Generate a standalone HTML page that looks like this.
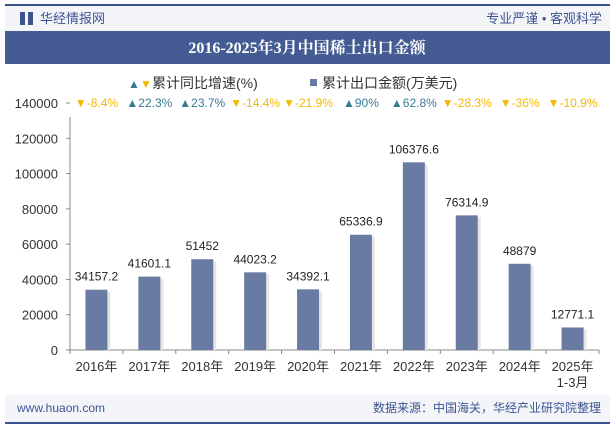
<!DOCTYPE html>
<html><head><meta charset="utf-8"><style>
body{margin:0;width:615px;height:427px;overflow:hidden;background:#fff;font-family:"Liberation Sans","Noto Sans CJK SC",sans-serif}
</style></head><body>
<svg width="615" height="427" xmlns="http://www.w3.org/2000/svg">
<rect x="0" y="0" width="615" height="427" fill="#fff"/>
<rect x="5" y="5" width="605" height="26" fill="#f4f5f9"/>
<rect x="5" y="4" width="605" height="2" fill="#3d5391"/>
<rect x="20" y="12" width="5" height="13" fill="#3d5391"/>
<rect x="28" y="12" width="5" height="13" fill="#3d5391"/>
<text x="40" y="23" font-size="13" fill="#3d5391">华经情报网</text>
<text x="602" y="23" font-size="13" fill="#3d5391" text-anchor="end">专业严谨 • 客观科学</text>
<rect x="5" y="31" width="605" height="33" fill="#445b93"/>
<text x="307" y="53" font-size="16" font-weight="bold" fill="#fff" text-anchor="middle" font-family="Liberation Serif,Noto Serif CJK SC,serif">2016-2025年3月中国稀土出口金额</text>
<g>
<text x="128" y="88" font-size="12" fill="#3a7a94">▲</text><text x="140" y="88" font-size="12" fill="#f5b800">▼</text>
<text x="152" y="88" font-size="14" fill="#333">累计同比增速(%)</text>
<rect x="310" y="79" width="7" height="7" fill="#6a7ba3"/>
<text x="322" y="88" font-size="14" fill="#333">累计出口金额(万美元)</text>
</g>
<g id="axes"></g><g id="bars"></g>
<rect x="5" y="395" width="605" height="27" fill="#f4f5f9"/>
<rect x="5" y="422" width="605" height="2" fill="#3d5391"/>
<text x="17" y="412" font-size="12" fill="#3d5391">www.huaon.com</text>
<text x="601" y="412" font-size="12" fill="#3d5391" text-anchor="end">数据来源：中国海关，华经产业研究院整理</text>
</svg>
<script>
const categories=["2016年","2017年","2018年","2019年","2020年","2021年","2022年","2023年","2024年","2025年"];
const values=[34157.2,41601.1,51452,44023.2,34392.1,65336.9,106376.6,76314.9,48879,12771.1];
const growth=[-8.4,22.3,23.7,-14.4,-21.9,90,62.8,-28.3,-36,-10.9];
const yTicks=[0,20000,40000,60000,80000,100000,120000,140000];
const NS="http://www.w3.org/2000/svg";
const x0=70,x1=599,yBase=350,yTop=103,yMax=140000;
const bw=(x1-x0)/categories.length;
const yS=v=>yBase-(v/yMax)*(yBase-yTop);
const xC=i=>x0+bw*(i+0.5);
function mk(t,a,p,txt){const e=document.createElementNS(NS,t);for(const k in a)e.setAttribute(k,a[k]);if(txt!=null)e.textContent=txt;p.appendChild(e);return e;}
const ax=document.getElementById('axes'),bg=document.getElementById('bars');
let l=mk('line',{x1:x0,y1:yBase,x2:x1,y2:yBase,stroke:'#888'},ax);


l=mk('line',{x1:x0,y1:yTop+14,x2:x0,y2:yBase,stroke:'#888'},ax);


yTicks.forEach(v=>{const t=mk('text',{x:x0-12,y:yS(v)+5,'font-size':13,fill:'#333','text-anchor':'end'},ax,String(v));


mk('line',{x1:x0-4,y1:yS(v),x2:x0,y2:yS(v),stroke:'#888'},ax);});
for(let i=0;i<=categories.length;i++)mk('line',{x1:x0+bw*i,y1:yBase,x2:x0+bw*i,y2:yBase+4,stroke:'#888'},ax);
categories.forEach((c,i)=>{
const t=mk('text',{x:xC(i),y:371,'font-size':13,fill:'#333','text-anchor':'middle'},ax,c);


if(i===categories.length-1){const t2=mk('text',{x:xC(i),y:387,'font-size':13,fill:'#333','text-anchor':'middle'},ax,'1-3月');

}
const v=values[i];
mk('rect',{x:xC(i)-8,y:yS(v)+2,width:22,height:yBase-yS(v)-2,fill:'#e6e6e6'},bg);
const r=mk('rect',{x:xC(i)-11,y:yS(v),width:22,height:yBase-yS(v),fill:'#6a7ba3'},bg);


const vl=mk('text',{x:xC(i),y:yS(v)-9,'font-size':12,fill:'#222','text-anchor':'middle'},bg,String(v));


const g=growth[i],up=g>=0;
const gl=mk('text',{x:xC(i),y:107,'font-size':12,fill:up?'#3a7a94':'#f5b800','text-anchor':'middle'},bg,(up?'▲':'▼')+g+'%');


});
</script>
</body></html>
